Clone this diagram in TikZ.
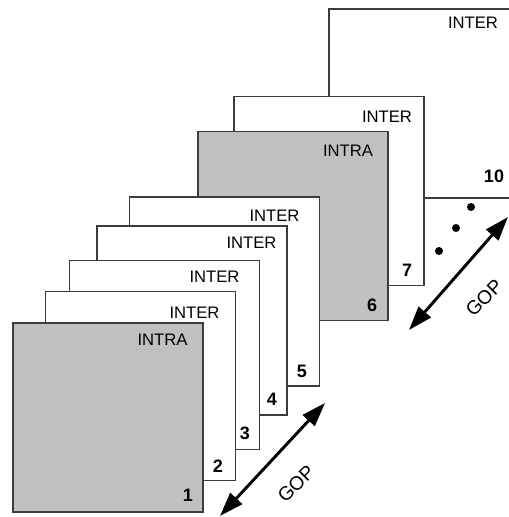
\documentclass[tikz,border=0pt]{standalone}
\usepackage{fontspec}
\setmainfont{Liberation Sans}
\usetikzlibrary{arrows.meta}
\definecolor{edgegray}{HTML}{3C3C3C}
\definecolor{intrafill}{HTML}{C0C0C0}
\tikzset{
  frame/.style={draw=edgegray, line width=1.1pt, fill=white, inner sep=0pt, outer sep=0pt,
                minimum width=142.5pt, minimum height=141.75pt},
  intraframe/.style={frame, fill=intrafill},
  kind/.style={inner sep=0pt, font=\fontsize{12.5}{14}\selectfont},
  index/.style={inner sep=0pt, font=\fontsize{13.5}{15}\selectfont\bfseries},
  dot/.style={circle, fill=black, inner sep=0pt, minimum size=6pt},
  gop/.style={line width=2.2pt, {Triangle[length=18pt,width=12pt]}-{Triangle[length=18pt,width=12pt]}},
  goptext/.style={inner sep=0pt, rotate=45, font=\fontsize{14.5}{16}\selectfont}
}
\begin{document}
\begin{tikzpicture}[x=0.75pt, y=-0.75pt]
  \useasboundingbox (0,0) rectangle (509,517);
  \clip (0,0) rectangle (509,517);

  % frames, back to front
  \node[frame]      (f10) at (424,103.5) {};
  \node[frame]      (f7)  at (329,191)   {};
  \node[intraframe] (f6)  at (293,226)   {};
  \node[frame]      (f5)  at (224.5,291.5) {};
  \node[frame]      (f4)  at (192,320.5) {};
  \node[frame]      (f3)  at (164.5,355) {};
  \node[frame]      (f2)  at (140.5,386) {};
  \node[intraframe] (f1)  at (108,417.5) {};

  % frame types
  \node[kind] (k10) at (473,23)  {INTER};
  \node[kind] (k7)  at (387,117) {INTER};
  \node[kind] (k6)  at (348,151) {INTRA};
  \node[kind] (k5)  at (274.5,216) {INTER};
  \node[kind] (k4)  at (251.5,243) {INTER};
  \node[kind] (k3)  at (214.5,277) {INTER};
  \node[kind] (k2)  at (194.5,313) {INTER};
  \node[kind] (k1)  at (162.5,340) {INTRA};

  % frame numbers
  \node[index] (n10) at (494,176) {10};
  \node[index] (n7)  at (407,270) {7};
  \node[index] (n6)  at (372,305) {6};
  \node[index] (n5)  at (302,371) {5};
  \node[index] (n4)  at (272,399) {4};
  \node[index] (n3)  at (245,433) {3};
  \node[index] (n2)  at (218,466) {2};
  \node[index] (n1)  at (188,495) {1};

  % continuation dots
  \node[dot] (d1) at (439,251) {};
  \node[dot] (d2) at (456,228) {};
  \node[dot] (d3) at (471,207) {};

  % group-of-pictures spans
  \coordinate (ga) at (220,516);
  \coordinate (gb) at (325,403);
  \draw[gop] (ga) -- (gb);
  \node[goptext] (g1) at (296,484) {GOP};

  \coordinate (gc) at (409,330);
  \coordinate (gd) at (508,217);
  \draw[gop] (gc) -- (gd);
  \node[goptext] (g2) at (484,298) {GOP};
\end{tikzpicture}
\end{document}
